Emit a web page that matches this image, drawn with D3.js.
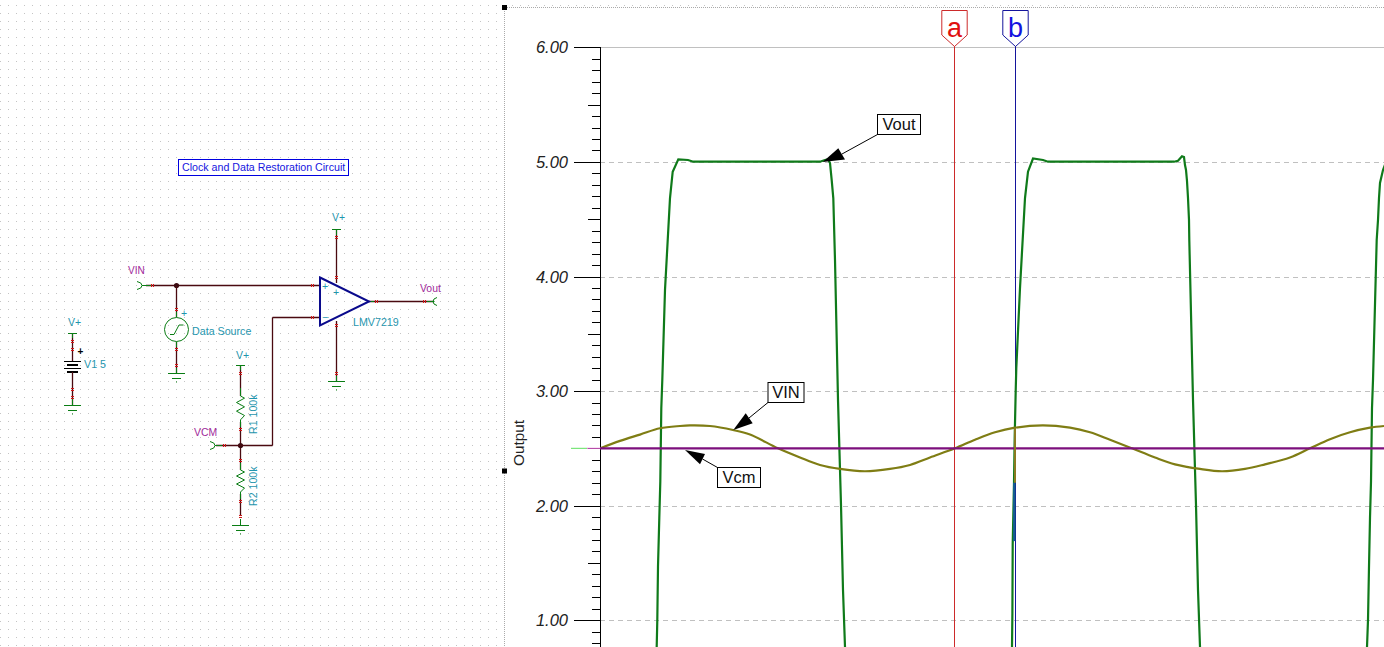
<!DOCTYPE html>
<html><head><meta charset="utf-8">
<style>html,body{margin:0;padding:0;background:#fff;overflow:hidden}svg{display:block}text{font-family:"Liberation Sans",Arial,sans-serif}</style>
<script src="https://cdn.jsdelivr.net/npm/d3@7"></script></head><body>
<svg id="c" width="1384" height="647"></svg>
<script>
// ---- chart data (time in arbitrary units, voltage in V) ----
const yTickLabels = ["6.00","5.00","4.00","3.00","2.00","1.00"];
const yMajor = [6,5,4,3,2,1];
const vinTime = [0,20,40,60,80,90,110,133,150,178,200,220,240,265,290,310,330,355,375,395,415,443,470,490,510,532,555,575,600,622,645,665,690,710,730,750,770,784];
const vinVolt = [2.5,2.565,2.62,2.675,2.695,2.7,2.695,2.66,2.62,2.5,2.42,2.355,2.32,2.3,2.32,2.355,2.42,2.5,2.575,2.64,2.68,2.7,2.68,2.64,2.575,2.5,2.42,2.36,2.32,2.3,2.32,2.36,2.42,2.5,2.58,2.64,2.68,2.695];
const vcmTime = [0,784];
const vcmVolt = [2.5,2.5];
const voutTime = [56,56.7,57.3,58,59.3,60.3,61.3,62.3,65,70,72.7,78.3,88,93.3,220,225,228,230,231.7,233.3,235,238,241,243,245,246,
  411.6,412,412.4,412.7,414,414.7,415.7,416.3,420,425,428,433,443,448,574,578,582,584,585,586,587,588,589,589.3,593,596,598,600,601,
  766.5,767,768,769,770,771,772,773,776.7,778,779,780,783,786];
const voutVolt = [0.6,0.766,1,1.467,1.892,2.209,2.852,3.096,3.882,4.685,4.915,5.023,5.017,5.002,5.002,5.017,5.023,4.991,4.842,4.685,4.144,2.923,2.005,1.263,0.766,0.6,
  0.6,0.766,1.06,1.66,2.2,2.6,3,3.2,3.9,4.685,4.915,5.03,5.017,5.002,5.002,5.01,5.049,5.043,4.973,4.93,4.834,4.685,4.493,4.319,2.923,2.005,1.263,0.766,0.6,
  0.6,0.766,1,1.467,1.892,2.209,2.852,3.096,4.319,4.493,4.685,4.816,4.93,5];
const cursorNames = ["a","b"];
const cursorTime = [354.3,415.3];
const calloutNames = ["Vout","VIN","Vcm"];
const calloutTime = [222.7,133.3,85];
const calloutVolt = [5.0,2.66,2.485];

const svg = d3.select("#c");
const x = d3.scaleLinear().domain([0,784]).range([600,1384]);
const y = d3.scaleLinear().domain([6,0]).range([47.4,734.7]);
const INK="#000",TEAL="#1f95ad",PURP="#a0289a",GRN="#0a7d14",WIRE="#4a0a10",RED="#d01818";

// dot grid
const defs=svg.append("defs");
const p=defs.append("pattern").attr("id","dots").attr("width",8).attr("height",8).attr("patternUnits","userSpaceOnUse").attr("y",5);
p.append("rect").attr("width",1).attr("height",1).attr("fill","#c4c4c4");
svg.append("rect").attr("width",500).attr("height",647).attr("fill","url(#dots)");
svg.append("rect").attr("x",504).attr("y",5).attr("width",880).attr("height",1).attr("fill","url(#dots)");

// ---------- schematic ----------
const g=svg.append("g");
const ln=(a,b,c,d,col=WIRE,w=1)=>g.append("line").attr("x1",a).attr("y1",b).attr("x2",c).attr("y2",d).attr("stroke",col).attr("stroke-width",w).attr("shape-rendering",col===WIRE?"auto":"crispEdges").attr("stroke-width",col===WIRE?1.3:w);
const tx=(s,a,b,col=TEAL,fs=10,extra={})=>{const t=g.append("text").text(s).attr("x",a).attr("y",b).attr("fill",col).attr("font-size",fs);for(const k in extra)t.attr(k,extra[k]);return t;};
const red=(a,b,h=true)=>{ if(h){ln(a-1.5,b-1,a+1.5,b-1,RED);ln(a-1.5,b+1,a+1.5,b+1,RED);} else {ln(a-1,b-1.5,a-1,b+1.5,RED);ln(a+1,b-1.5,a+1,b+1.5,RED);} };
const gnd=(cx,by)=>{ln(cx-8.5,by,cx+8.5,by,GRN);ln(cx-4.5,by+5,cx+4.5,by+5,GRN);g.append("rect").attr("x",cx-.5).attr("y",by+8).attr("width",1).attr("height",1).attr("fill",GRN);};
const jn=(a,b)=>g.append("circle").attr("cx",a).attr("cy",b).attr("r",2.6).attr("fill","#3a0a10");
const vConn=(a,b)=>g.append("path").attr("d",`M${a-4},${b-4}Q${a+1},${b-3} ${a+1},${b}Q${a+1},${b+3} ${a-4},${b+4}M${a+1},${b}H${a+5}`).attr("fill","none").attr("stroke",GRN);

// title box
g.append("rect").attr("x",178.5).attr("y",159.5).attr("width",170).attr("height",16).attr("fill","#fff").attr("stroke","#0000e0");
tx("Clock and Data Restoration Circuit",182,170.5,"#1414e0",10.65);

// battery
tx("V+",68,326,TEAL,10.5);
ln(72.5,333.5,72.5,361,WIRE);ln(68,333.5,77,333.5,GRN);ln(72.5,333.5,72.5,338,GRN);
red(72.5,341.5);red(72.5,349.5);
tx("+",77.5,355,"#000",10,{"font-weight":"bold"});
ln(64,361.5,81,361.5,INK);ln(67,365,78,365,INK,2);ln(64,368.5,81,368.5,INK);ln(67,372,78,372,INK,2);
ln(72.5,372,72.5,405,WIRE);ln(72.5,398,72.5,405,GRN);red(72.5,389.5);red(72.5,397.5);gnd(72.5,405.5);
tx("V1 5",84,368,TEAL,10.7);

// VIN + source
tx("VIN",128,274,PURP,10);
vConn(141,285.5);
ln(146,285.5,320,285.5);ln(146,285.5,151,285.5,GRN);red(152,285.5,false);
jn(176.5,285.5);
ln(176.5,285.5,176.5,317);ln(176.5,312,176.5,317,GRN);red(176.5,309.5);
g.append("circle").attr("cx",176.5).attr("cy",329.5).attr("r",12).attr("fill","none").attr("stroke",GRN);
g.append("path").attr("d","M170,334.5H174L179,325H183.5").attr("fill","none").attr("stroke",GRN);
tx("+",181,317,TEAL,10.5);
tx("Data Source",192,334.5,TEAL,10.7);
ln(176.5,342,176.5,373);ln(176.5,342,176.5,347,GRN);ln(176.5,368,176.5,373,GRN);red(176.5,349.5);red(176.5,365.5);gnd(176.5,373.5);

// op-amp
tx("V+",332,221,TEAL,10.5);
ln(336.5,229.5,336.5,283);ln(332,229.5,341,229.5,GRN);ln(336.5,229.5,336.5,235,GRN);red(336.5,237.5);red(336.5,277.5);
ln(336.5,321,336.5,381);ln(336.5,376,336.5,381,GRN);red(336.5,325.5);red(336.5,373.5);gnd(336.5,381.5);
ln(272.5,317.5,320,317.5);ln(272.5,317.5,272.5,445.5);red(312.5,285.5,false);red(312.5,317.5,false);
ln(369,301.5,433,301.5);ln(369,301.5,374,301.5,GRN);ln(427,301.5,433,301.5,GRN);red(376.5,301.5,false);red(424.5,301.5,false);
g.append("path").attr("d","M433,301.5H434.5M437,297.5Q433,298.5 433,301.5Q433,304.5 437,305.5").attr("fill","none").attr("stroke",GRN);
g.append("path").attr("d","M320,277.5L369,301.5L320,325.5Z").attr("fill","none").attr("stroke","#0a0a8c").attr("stroke-width",2);
tx("+",322,290,TEAL,10.5);tx("+",333,296,TEAL,10.5);tx("\u2212",322,320.5,TEAL,10.5);
tx("LMV7219",353,326,TEAL,10.7);
tx("Vout",420,291.5,PURP,10.4);

// divider resistors
tx("V+",236,358.5,TEAL,10.5);
ln(240.5,365.5,240.5,396);ln(236,365.5,245,365.5,GRN);ln(240.5,365.5,240.5,370,GRN);red(240.5,373.5);ln(240.5,388,240.5,396,GRN);
const zig=(t,b)=>{const s=(b-t)/6;let d=`M240.5,${t}`;[4,-4,4,-4,4,0].forEach((o,i)=>d+=`L${240.5+o},${t+s*(i+.5)}`);d+=`L240.5,${b}`;g.append("path").attr("d",d).attr("fill","#fff").attr("stroke",GRN);};
ln(240.5,422,240.5,470);ln(240.5,494,240.5,516);
zig(396,422);
ln(240.5,422,240.5,427,GRN);red(240.5,429.5);
jn(240.5,445.5);ln(216,445.5,272.5,445.5);ln(216,445.5,222,445.5,GRN);red(224.5,445.5,false);
vConn(214,445.5);
red(240.5,460.5);ln(240.5,463,240.5,470,GRN);zig(470,494);red(240.5,501.5);red(240.5,516.5);ln(240.5,494,240.5,499,GRN);ln(240.5,519,240.5,525,GRN);gnd(240.5,525.5);
tx("VCM",194,435.5,PURP,10.4);
tx("R1 100k",0,0,TEAL,10.6,{transform:"translate(257,434) rotate(-90)"});
tx("R2 100k",0,0,TEAL,10.6,{transform:"translate(257,506) rotate(-90)"});

// ---------- chart frame ----------
const c=svg.append("g");
c.append("line").attr("x1",505).attr("y1",7.5).attr("x2",1384).attr("y2",7.5).attr("stroke","#aaa").attr("stroke-dasharray","1 1");
c.append("line").attr("x1",504.5).attr("y1",7).attr("x2",504.5).attr("y2",647).attr("stroke","#aaa").attr("stroke-dasharray","1 1");
[[504.5,7.5],[504.5,471]].forEach(h=>c.append("rect").attr("x",h[0]-2.5).attr("y",h[1]-2.5).attr("width",5).attr("height",5).attr("fill","#000"));

// grid
yMajor.forEach((v,i)=>c.append("line").attr("x1",600).attr("x2",1384).attr("y1",Math.round(y(v))+.5).attr("y2",Math.round(y(v))+.5)
  .attr("stroke","#c0c0c0").attr("stroke-dasharray",i?"5 4":null));

// y axis
const minor=d3.range(0,61).map(d=>d/10).filter(v=>y(v)<660);
const axisG=c.append("g").attr("transform","translate(600.5,0)").attr("shape-rendering","crispEdges");
axisG.call(d3.axisLeft(y).tickValues(minor).tickSize(9).tickFormat("").tickSizeOuter(0));
axisG.select(".domain").remove();
axisG.selectAll(".tick line").attr("stroke","#000");
axisG.selectAll(".tick").attr("transform",d=>`translate(0,${Math.round(y(d))+.5})`);
axisG.selectAll(".tick line").attr("x2",d=>{const k=Math.round(d*10);return k%10===0?-27:(k%5===0?-13:-9);});
axisG.append("line").attr("x1",0).attr("x2",0).attr("y1",47).attr("y2",647).attr("stroke","#000");
yMajor.forEach((v,i)=>c.append("text").text(yTickLabels[i]).attr("x",568).attr("y",y(v)+6).attr("text-anchor","end")
  .attr("font-size",16.5).attr("font-style","italic").attr("fill","#222"));
c.append("text").text("Output").attr("transform","translate(524,443) rotate(-90)").attr("text-anchor","middle").attr("font-size",15.3).attr("fill","#222");

// cursors (lines under traces)
const curCol=["#cc2a2a","#14149c"], curTxt=["#e01010","#1414e0"];
cursorTime.forEach((t,i)=>{const X=Math.round(x(t))+.5;
  c.append("line").attr("x1",X).attr("x2",X).attr("y1",46).attr("y2",647).attr("stroke",curCol[i]).attr("shape-rendering","crispEdges");});

// traces
const clip=defs.append("clipPath").attr("id","plot");clip.append("rect").attr("x",600).attr("y",0).attr("width",784).attr("height",647);
const line=d3.line().x(d=>x(d[0])).y(d=>y(d[1]));
const smooth=d3.line().x(d=>x(d[0])).y(d=>y(d[1])).curve(d3.curveCatmullRom);
const tr=c.append("g").attr("clip-path","url(#plot)").attr("fill","none");
tr.append("path").attr("d",line(voutTime.map((t,i)=>[t,voutVolt[i]]))).attr("stroke","#0f7a1a").attr("stroke-width",2.2);
// start-marker stub of Vcm, left of the axis
c.append("line").attr("x1",571).attr("x2",587).attr("y1",y(2.5)).attr("y2",y(2.5)).attr("stroke","#5fe05f").attr("stroke-width",1);
c.append("line").attr("x1",587).attr("x2",600).attr("y1",y(2.5)).attr("y2",y(2.5)).attr("stroke","#e060d0").attr("stroke-width",1);
tr.append("path").attr("d",smooth(vinTime.map((t,i)=>[t,vinVolt[i]]))).attr("stroke","#7f7d14").attr("stroke-width",2.2);
tr.append("path").attr("d",line(vcmTime.map((t,i)=>[t,vcmVolt[i]]))).attr("stroke","#7d0f7d").attr("stroke-width",2.2);
// where the Vout trace runs over cursor b
tr.append("line").attr("x1",x(414.2)).attr("x2",x(414.2)).attr("y1",y(2.2)).attr("y2",y(1.69)).attr("stroke","#145f8c").attr("stroke-width",2.4);
tr.append("line").attr("x1",x(415)).attr("x2",x(415)).attr("y1",y(2.68)).attr("y2",y(2.2)).attr("stroke","#8a7a20").attr("stroke-width",2);

// cursor flags
cursorTime.forEach((t,i)=>{const X=Math.round(x(t))+.5;
  c.append("path").attr("d",`M${X-12.7},10.5H${X+12.7}V35L${X},46.5L${X-12.7},35Z`).attr("fill","#fff").attr("stroke",curCol[i]);
  c.append("text").text(cursorNames[i]).attr("x",X).attr("y",37).attr("text-anchor","middle").attr("font-size",27).attr("fill",curTxt[i]);
});

// callouts
const boxes=[[877.5,114.5,43,20,845,159.5,838.3,148.3],[768,382.5,36,20,752.7,423.3,745.7,413.3],[717.5,467.5,43,20,705,454,700,464.3]];
const offs=[[842,154],[749,418],[702.5,459]];
calloutNames.forEach((n,i)=>{const b=boxes[i],X=x(calloutTime[i]),Y=y(calloutVolt[i]);
  const cornerX=b[0],cornerY=i===2?b[1]:b[1]+b[3];
  c.append("line").attr("x1",cornerX).attr("y1",cornerY).attr("x2",offs[i][0]).attr("y2",offs[i][1]).attr("stroke","#000");
  c.append("path").attr("d",`M${X},${Y}L${b[4]},${b[5]}L${b[6]},${b[7]}Z`).attr("fill","#000");
  c.append("rect").attr("x",b[0]).attr("y",b[1]).attr("width",b[2]).attr("height",b[3]).attr("fill","#fff").attr("stroke","#000");
  c.append("text").text(n).attr("x",b[0]+b[2]/2).attr("y",b[1]+15.5).attr("text-anchor","middle").attr("font-size",16.5).attr("fill","#111");
});
</script></body></html>
